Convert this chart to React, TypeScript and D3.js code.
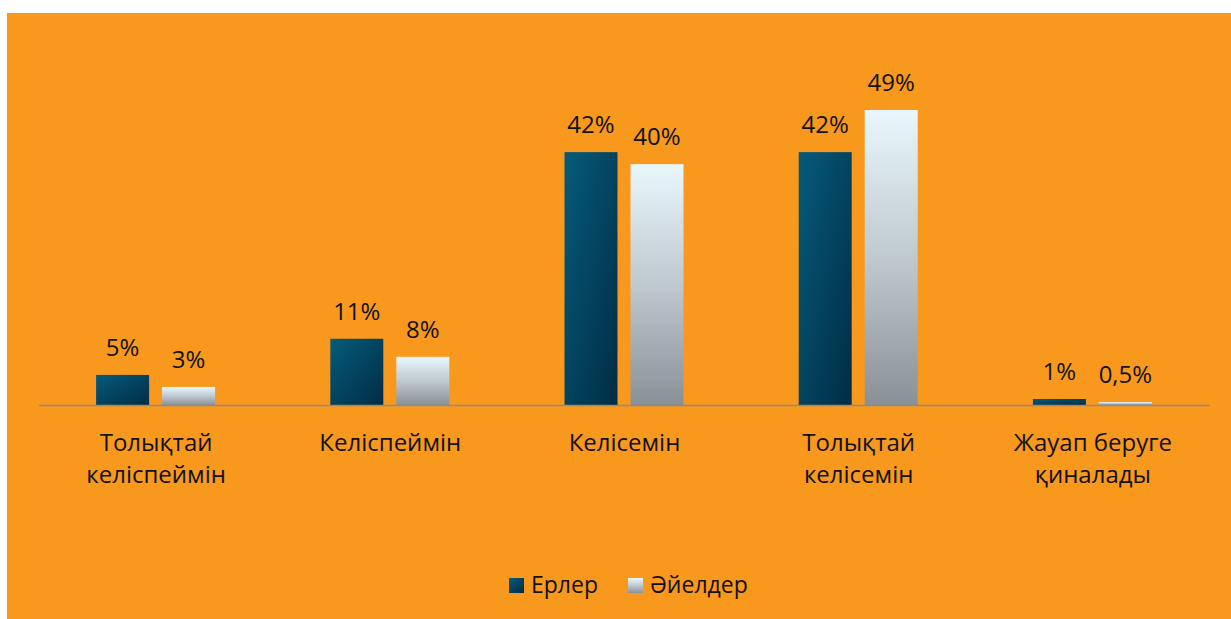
import React, { useEffect, useRef } from 'react';
import { select, scaleBand, scaleLinear } from 'd3';

const categories = [
  ['Толықтай', 'келіспеймін'],
  ['Келіспеймін'],
  ['Келісемін'],
  ['Толықтай', 'келісемін'],
  ['Жауап беруге', 'қиналады'],
];
const seriesNames = ['Ерлер', 'Әйелдер'];
const menValues = [5, 11, 42, 42, 1];
const womenValues = [3, 8, 40, 49, 0.5];
const menLabels = ['5%', '11%', '42%', '42%', '1%'];
const womenLabels = ['3%', '8%', '40%', '49%', '0,5%'];

const W = 1231;
const H = 619;
const FONT = '"Open Sans", "Noto Sans", sans-serif';

const App = () => {
  const svgRef = useRef<SVGSVGElement>(null);

  useEffect(() => {
    const svg = select(svgRef.current);
    svg.selectAll('*').remove();

    const defs = svg.append('defs');
    const gMen = defs.append('linearGradient').attr('id', 'gradMen')
      .attr('x1', 0).attr('y1', 0).attr('x2', 1).attr('y2', 1);
    gMen.append('stop').attr('offset', '0%').attr('stop-color', '#065b7b');
    gMen.append('stop').attr('offset', '100%').attr('stop-color', '#012c44');
    const gWomen = defs.append('linearGradient').attr('id', 'gradWomen')
      .attr('x1', 0).attr('y1', 0).attr('x2', 0).attr('y2', 1);
    gWomen.append('stop').attr('offset', '0%').attr('stop-color', '#e9f7fd');
    gWomen.append('stop').attr('offset', '50%').attr('stop-color', '#bfc9cf');
    gWomen.append('stop').attr('offset', '100%').attr('stop-color', '#899197');

    svg.append('rect').attr('width', W).attr('height', H).attr('fill', '#fff');
    svg.append('rect').attr('x', 7).attr('y', 13).attr('width', W - 7).attr('height', H - 13)
      .attr('fill', '#f8991d');

    const baseY = 405;
    const x = scaleBand<number>().domain(categories.map((_, i) => i)).range([39, 1210]);
    const y = scaleLinear().domain([0, 49]).range([baseY, 110]);

    const barW = 53;
    const series = [
      { vals: menValues, labels: menLabels, fill: 'url(#gradMen)', off: -60 },
      { vals: womenValues, labels: womenLabels, fill: 'url(#gradWomen)', off: 6 },
    ];

    series.forEach((s) => {
      s.vals.forEach((v, i) => {
        const cx = (x(i) as number) + x.bandwidth() / 2;
        svg.append('rect')
          .attr('x', cx + s.off).attr('y', y(v))
          .attr('width', barW).attr('height', baseY - y(v))
          .attr('fill', s.fill);
        svg.append('text')
          .attr('x', cx + s.off + barW / 2).attr('y', y(v) - 19)
          .attr('text-anchor', 'middle')
          .attr('font-family', FONT).attr('font-size', 24).attr('fill', '#111')
          .text(s.labels[i]);
      });
    });

    svg.append('line')
      .attr('x1', 39).attr('x2', 1210).attr('y1', baseY + 0.5).attr('y2', baseY + 0.5)
      .attr('stroke', '#8c8c8c').attr('stroke-width', 1.3);

    categories.forEach((lines, i) => {
      const cx = (x(i) as number) + x.bandwidth() / 2;
      lines.forEach((ln, j) => {
        svg.append('text')
          .attr('x', cx).attr('y', 451 + j * 32)
          .attr('text-anchor', 'middle')
          .attr('font-family', FONT).attr('font-size', 24).attr('fill', '#111')
          .text(ln);
      });
    });

    const legend = [
      { x: 509, fill: 'url(#gradMen)' },
      { x: 628, fill: 'url(#gradWomen)' },
    ];
    legend.forEach((l, i) => {
      svg.append('rect').attr('x', l.x).attr('y', 578).attr('width', 15).attr('height', 15)
        .attr('fill', l.fill);
      svg.append('text').attr('x', l.x + 22).attr('y', 593)
        .attr('font-family', FONT).attr('font-size', 23).attr('fill', '#111')
        .text(seriesNames[i]);
    });
  }, []);

  return (
    <svg ref={svgRef} width={W} height={H}
      style={{ position: 'absolute', left: 0, top: 0, display: 'block' }} />
  );
};

export default App;
